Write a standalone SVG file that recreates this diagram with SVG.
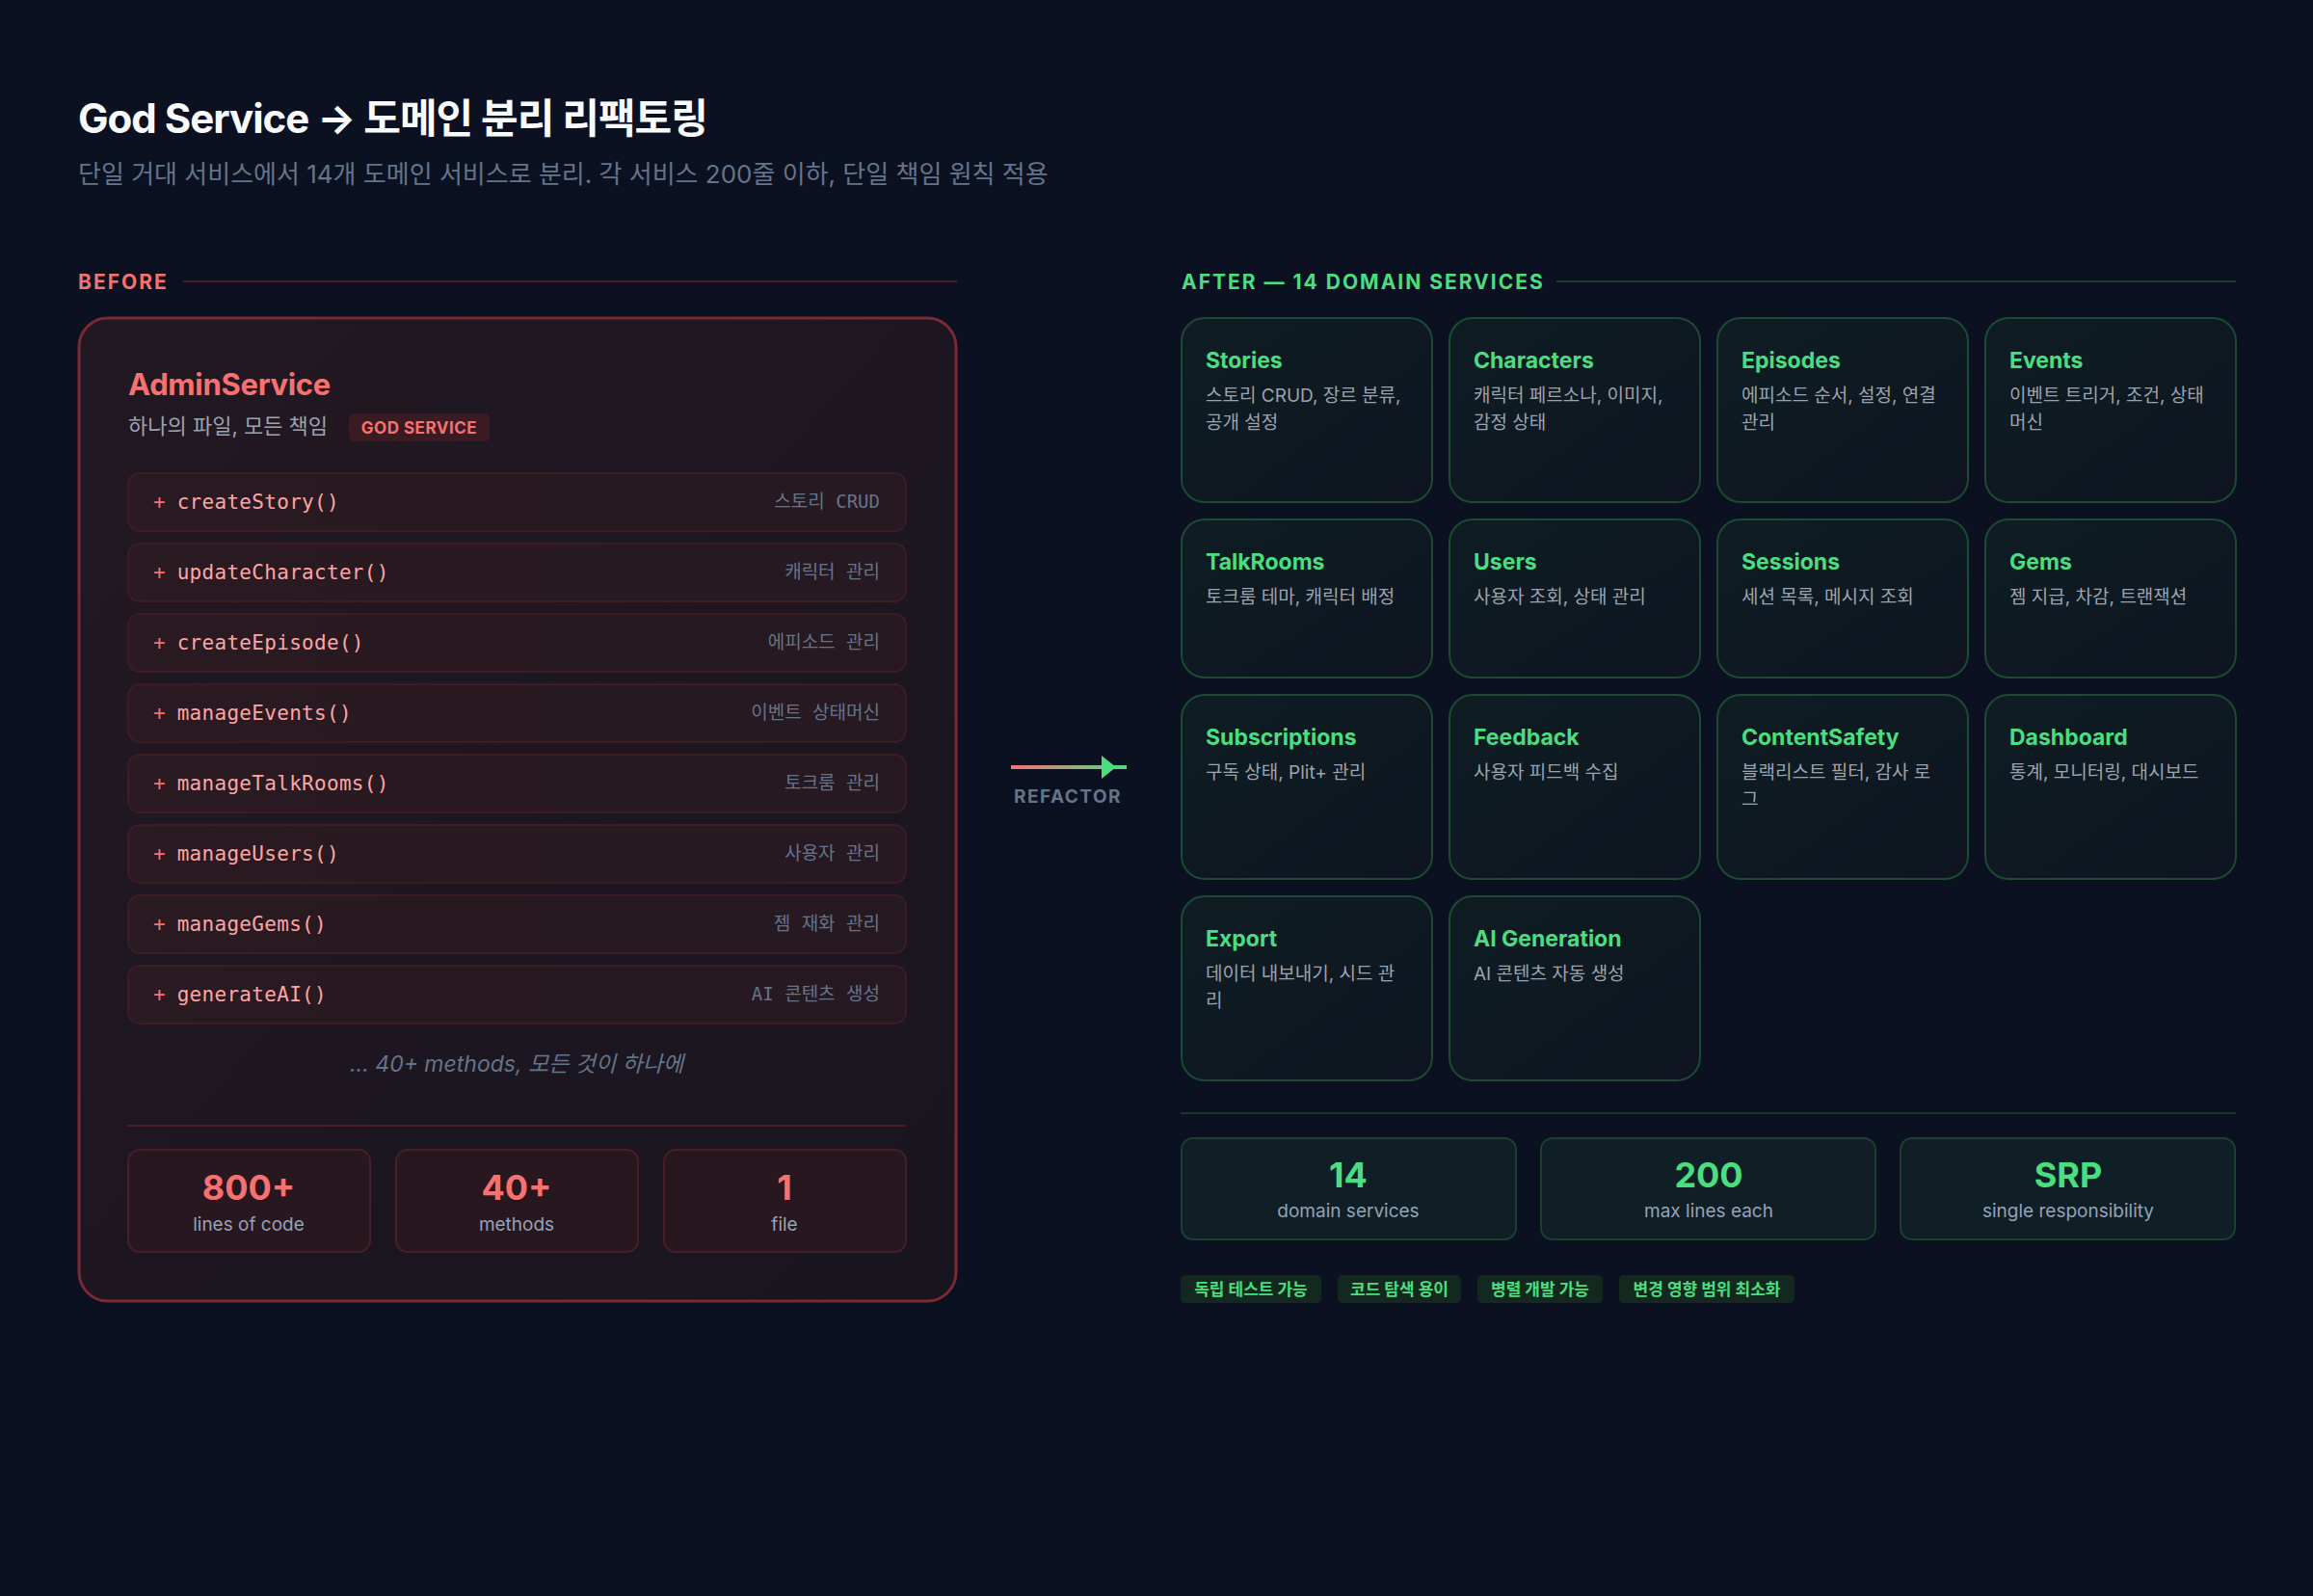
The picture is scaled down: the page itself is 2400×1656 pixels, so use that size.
<svg xmlns="http://www.w3.org/2000/svg" width="2400" height="1656" viewBox="0 0 2400 1656">
<defs>
<linearGradient id="gBefore" x1="0" y1="0" x2="1" y2="1">
<stop offset="0" stop-color="#221822"/>
<stop offset="1" stop-color="#19151f"/>
</linearGradient>
<linearGradient id="gCard" x1="0" y1="0" x2="1" y2="1">
<stop offset="0" stop-color="#0f1d23"/>
<stop offset="1" stop-color="#0e1520"/>
</linearGradient>
<linearGradient id="gRow" x1="0" y1="0" x2="1" y2="0">
<stop offset="0" stop-color="#2a1a22"/>
<stop offset="1" stop-color="#261921"/>
</linearGradient>
<linearGradient id="gArrow" x1="1049" y1="0" x2="1169" y2="0" gradientUnits="userSpaceOnUse">
<stop offset="0" stop-color="#f87171"/>
<stop offset="1" stop-color="#4ade80"/>
</linearGradient>
<style>
.kr{font-family:"Inter","Noto Sans CJK KR",sans-serif}
.title{font-size:42px;font-weight:700;fill:#f8fafc;letter-spacing:-1px}
.sub{font-size:26px;fill:#64748b}
.sec{font-size:21px;font-weight:700;letter-spacing:2px}
.mono{font-family:"DejaVu Sans Mono","Noto Sans CJK KR",monospace}
.row{fill:url(#gRow);stroke:#3d1c25;stroke-width:2}
.plus{fill:#f87171}
.mname{fill:#fca5a5;font-size:21px;letter-spacing:0.3px}
.mlab{fill:#64748b;font-size:19px}
.card{fill:url(#gCard);stroke:#1c4a32;stroke-width:2}
.ctitle{font-size:23px;font-weight:700;fill:#4ade80}
.cdesc{font-size:19px;fill:#9ca3af}
.lstat{fill:#28171f;stroke:#45202a;stroke-width:2}
.lnum{font-size:36px;font-weight:700;fill:#f87171}
.slab{font-size:19px;fill:#94a3b8}
.rstat{fill:#101e25;stroke:#1c4030;stroke-width:2}
.rnum{font-size:36px;font-weight:700;fill:#4ade80}
.tag{fill:#13291f}
.tagt{font-size:17px;font-weight:700;fill:#4ade80}
</style>
</defs>
<rect x="0" y="0" width="2400" height="1656" fill="#0b1120"/>

<g id="header">
<text class="kr title" x="81" y="138">God Service → 도메인 분리 리팩토링</text>
<text class="kr sub" x="81" y="190">단일 거대 서비스에서 14개 도메인 서비스로 분리. 각 서비스 200줄 이하, 단일 책임 원칙 적용</text>
</g>

<g id="before-label">
<text class="kr sec" x="81" y="300" fill="#f87171">BEFORE</text>
<line x1="190" y1="292" x2="993" y2="292" stroke="#4a1d26" stroke-width="2"/>
</g>

<g id="admin-service">
<rect x="82" y="330" width="910" height="1020" rx="30" fill="url(#gBefore)" stroke="#7a2a33" stroke-width="3"/>
<text class="kr" x="133" y="410" font-size="31" font-weight="700" fill="#f87171" letter-spacing="-0.3">AdminService</text>
<text class="kr" x="133" y="450" font-size="22" fill="#9ca3af">하나의 파일, 모든 책임</text>
<rect x="362" y="429" width="146" height="29" rx="5" fill="#3b1a22"/>
<text class="kr" x="435" y="450" font-size="17" font-weight="700" fill="#f87171" text-anchor="middle" letter-spacing="0.5">GOD SERVICE</text>

<g id="m1"><rect class="row" x="133" y="491" width="807" height="60" rx="12"/><text class="mono" x="159" y="528"><tspan class="plus" font-size="21">+</tspan><tspan class="mname" dx="12">createStory()</tspan></text><text class="mono mlab" x="913" y="527" text-anchor="end">스토리 CRUD</text></g>
<g id="m2"><rect class="row" x="133" y="564" width="807" height="60" rx="12"/><text class="mono" x="159" y="601"><tspan class="plus" font-size="21">+</tspan><tspan class="mname" dx="12">updateCharacter()</tspan></text><text class="mono mlab" x="913" y="600" text-anchor="end">캐릭터 관리</text></g>
<g id="m3"><rect class="row" x="133" y="637" width="807" height="60" rx="12"/><text class="mono" x="159" y="674"><tspan class="plus" font-size="21">+</tspan><tspan class="mname" dx="12">createEpisode()</tspan></text><text class="mono mlab" x="913" y="673" text-anchor="end">에피소드 관리</text></g>
<g id="m4"><rect class="row" x="133" y="710" width="807" height="60" rx="12"/><text class="mono" x="159" y="747"><tspan class="plus" font-size="21">+</tspan><tspan class="mname" dx="12">manageEvents()</tspan></text><text class="mono mlab" x="913" y="746" text-anchor="end">이벤트 상태머신</text></g>
<g id="m5"><rect class="row" x="133" y="783" width="807" height="60" rx="12"/><text class="mono" x="159" y="820"><tspan class="plus" font-size="21">+</tspan><tspan class="mname" dx="12">manageTalkRooms()</tspan></text><text class="mono mlab" x="913" y="819" text-anchor="end">토크룸 관리</text></g>
<g id="m6"><rect class="row" x="133" y="856" width="807" height="60" rx="12"/><text class="mono" x="159" y="893"><tspan class="plus" font-size="21">+</tspan><tspan class="mname" dx="12">manageUsers()</tspan></text><text class="mono mlab" x="913" y="892" text-anchor="end">사용자 관리</text></g>
<g id="m7"><rect class="row" x="133" y="929" width="807" height="60" rx="12"/><text class="mono" x="159" y="966"><tspan class="plus" font-size="21">+</tspan><tspan class="mname" dx="12">manageGems()</tspan></text><text class="mono mlab" x="913" y="965" text-anchor="end">젬 재화 관리</text></g>
<g id="m8"><rect class="row" x="133" y="1002" width="807" height="60" rx="12"/><text class="mono" x="159" y="1039"><tspan class="plus" font-size="21">+</tspan><tspan class="mname" dx="12">generateAI()</tspan></text><text class="mono mlab" x="913" y="1038" text-anchor="end">AI 콘텐츠 생성</text></g>

<text class="kr" x="536" y="1112" font-size="23" font-style="italic" fill="#64748b" text-anchor="middle">... 40+ methods, 모든 것이 하나에</text>
<line x1="132" y1="1168" x2="941" y2="1168" stroke="#4a1d26" stroke-width="2"/>

<g id="ls1"><rect class="lstat" x="133" y="1193" width="251" height="106" rx="12"/><text class="kr lnum" x="258" y="1245" text-anchor="middle">800+</text><text class="kr slab" x="258" y="1277" text-anchor="middle">lines of code</text></g>
<g id="ls2"><rect class="lstat" x="411" y="1193" width="251" height="106" rx="12"/><text class="kr lnum" x="536" y="1245" text-anchor="middle">40+</text><text class="kr slab" x="536" y="1277" text-anchor="middle">methods</text></g>
<g id="ls3"><rect class="lstat" x="689" y="1193" width="251" height="106" rx="12"/><text class="kr lnum" x="814" y="1245" text-anchor="middle">1</text><text class="kr slab" x="814" y="1277" text-anchor="middle">file</text></g>
</g>

<g id="connectors">
<line x1="1049" y1="796" x2="1169" y2="796" stroke="url(#gArrow)" stroke-width="4"/>
<polygon points="1143,784 1158,796 1143,808" fill="#4ade80"/>
<text class="kr" x="1108" y="833" font-size="19" font-weight="700" fill="#64748b" text-anchor="middle" letter-spacing="1.5">REFACTOR</text>
</g>

<g id="after-label">
<text class="kr sec" x="1226" y="300" fill="#4ade80">AFTER — 14 DOMAIN SERVICES</text>
<line x1="1615" y1="292" x2="2320" y2="292" stroke="#1a3f2b" stroke-width="2"/>
</g>

<g id="stories"><rect class="card" x="1226" y="330" width="260" height="191" rx="24"/><text class="kr ctitle" x="1251" y="382">Stories</text><text class="kr cdesc" x="1251" y="417">스토리 CRUD, 장르 분류,</text><text class="kr cdesc" x="1251" y="445">공개 설정</text></g>
<g id="characters"><rect class="card" x="1504" y="330" width="260" height="191" rx="24"/><text class="kr ctitle" x="1529" y="382">Characters</text><text class="kr cdesc" x="1529" y="417">캐릭터 페르소나, 이미지,</text><text class="kr cdesc" x="1529" y="445">감정 상태</text></g>
<g id="episodes"><rect class="card" x="1782" y="330" width="260" height="191" rx="24"/><text class="kr ctitle" x="1807" y="382">Episodes</text><text class="kr cdesc" x="1807" y="417">에피소드 순서, 설정, 연결</text><text class="kr cdesc" x="1807" y="445">관리</text></g>
<g id="events"><rect class="card" x="2060" y="330" width="260" height="191" rx="24"/><text class="kr ctitle" x="2085" y="382">Events</text><text class="kr cdesc" x="2085" y="417">이벤트 트리거, 조건, 상태</text><text class="kr cdesc" x="2085" y="445">머신</text></g>

<g id="talkrooms"><rect class="card" x="1226" y="539" width="260" height="164" rx="24"/><text class="kr ctitle" x="1251" y="591">TalkRooms</text><text class="kr cdesc" x="1251" y="626">토크룸 테마, 캐릭터 배정</text></g>
<g id="users"><rect class="card" x="1504" y="539" width="260" height="164" rx="24"/><text class="kr ctitle" x="1529" y="591">Users</text><text class="kr cdesc" x="1529" y="626">사용자 조회, 상태 관리</text></g>
<g id="sessions"><rect class="card" x="1782" y="539" width="260" height="164" rx="24"/><text class="kr ctitle" x="1807" y="591">Sessions</text><text class="kr cdesc" x="1807" y="626">세션 목록, 메시지 조회</text></g>
<g id="gems"><rect class="card" x="2060" y="539" width="260" height="164" rx="24"/><text class="kr ctitle" x="2085" y="591">Gems</text><text class="kr cdesc" x="2085" y="626">젬 지급, 차감, 트랜잭션</text></g>

<g id="subscriptions"><rect class="card" x="1226" y="721" width="260" height="191" rx="24"/><text class="kr ctitle" x="1251" y="773">Subscriptions</text><text class="kr cdesc" x="1251" y="808">구독 상태, Plit+ 관리</text></g>
<g id="feedback"><rect class="card" x="1504" y="721" width="260" height="191" rx="24"/><text class="kr ctitle" x="1529" y="773">Feedback</text><text class="kr cdesc" x="1529" y="808">사용자 피드백 수집</text></g>
<g id="contentsafety"><rect class="card" x="1782" y="721" width="260" height="191" rx="24"/><text class="kr ctitle" x="1807" y="773">ContentSafety</text><text class="kr cdesc" x="1807" y="808">블랙리스트 필터, 감사 로</text><text class="kr cdesc" x="1807" y="836">그</text></g>
<g id="dashboard"><rect class="card" x="2060" y="721" width="260" height="191" rx="24"/><text class="kr ctitle" x="2085" y="773">Dashboard</text><text class="kr cdesc" x="2085" y="808">통계, 모니터링, 대시보드</text></g>

<g id="export"><rect class="card" x="1226" y="930" width="260" height="191" rx="24"/><text class="kr ctitle" x="1251" y="982">Export</text><text class="kr cdesc" x="1251" y="1017">데이터 내보내기, 시드 관</text><text class="kr cdesc" x="1251" y="1045">리</text></g>
<g id="ai-generation"><rect class="card" x="1504" y="930" width="260" height="191" rx="24"/><text class="kr ctitle" x="1529" y="982">AI Generation</text><text class="kr cdesc" x="1529" y="1017">AI 콘텐츠 자동 생성</text></g>

<line x1="1225" y1="1155" x2="2320" y2="1155" stroke="#17352a" stroke-width="2"/>

<g id="rs1"><rect class="rstat" x="1226" y="1181" width="347" height="105" rx="12"/><text class="kr rnum" x="1399" y="1232" text-anchor="middle">14</text><text class="kr slab" x="1399" y="1263" text-anchor="middle">domain services</text></g>
<g id="rs2"><rect class="rstat" x="1599" y="1181" width="347" height="105" rx="12"/><text class="kr rnum" x="1773" y="1232" text-anchor="middle">200</text><text class="kr slab" x="1773" y="1263" text-anchor="middle">max lines each</text></g>
<g id="rs3"><rect class="rstat" x="1972" y="1181" width="347" height="105" rx="12"/><text class="kr rnum" x="2146" y="1232" text-anchor="middle">SRP</text><text class="kr slab" x="2146" y="1263" text-anchor="middle">single responsibility</text></g>

<g id="tags">
<rect class="tag" x="1225" y="1323" width="146" height="29" rx="5"/><text class="kr tagt" x="1298" y="1344" text-anchor="middle">독립 테스트 가능</text>
<rect class="tag" x="1388" y="1323" width="128" height="29" rx="5"/><text class="kr tagt" x="1452" y="1344" text-anchor="middle">코드 탐색 용이</text>
<rect class="tag" x="1533" y="1323" width="130" height="29" rx="5"/><text class="kr tagt" x="1598" y="1344" text-anchor="middle">병렬 개발 가능</text>
<rect class="tag" x="1680" y="1323" width="182" height="29" rx="5"/><text class="kr tagt" x="1771" y="1344" text-anchor="middle">변경 영향 범위 최소화</text>
</g>
</svg>
